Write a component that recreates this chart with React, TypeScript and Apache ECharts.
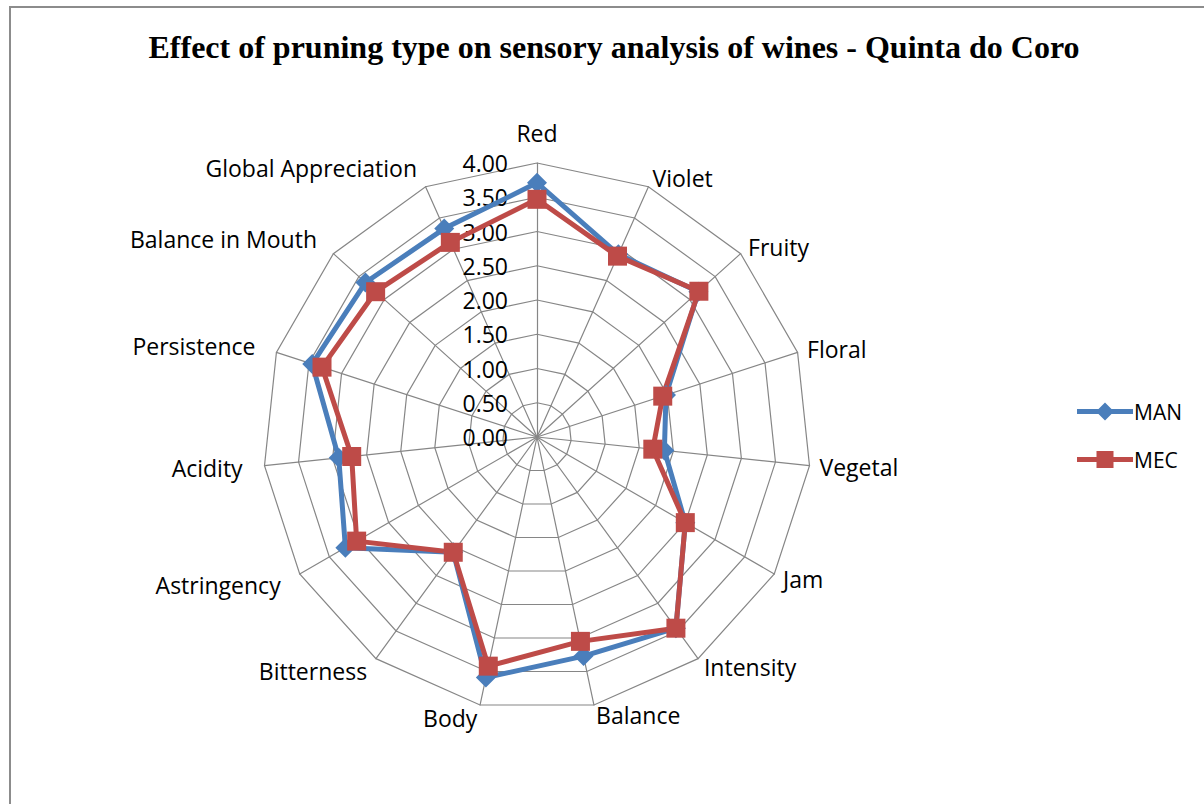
import React, { useEffect, useRef } from "react";
import * as echarts from "echarts";

// Categories in clockwise order starting at the top
const categories = [
  "Red", "Violet", "Fruity", "Floral", "Vegetal", "Jam", "Intensity", "Balance",
  "Body", "Bitterness", "Astringency", "Acidity", "Persistence", "Balance in Mouth",
  "Global Appreciation",
];
const manValues = [3.71, 2.92, 3.17, 1.98, 1.87, 2.5, 3.45, 3.27, 3.59, 2.08, 3.23, 2.91, 3.45, 3.37, 3.33];
const mecValues = [3.47, 2.89, 3.18, 1.93, 1.7, 2.5, 3.45, 3.05, 3.42, 2.08, 3.04, 2.72, 3.3, 3.17, 3.11];
const seriesNames = ["MAN", "MEC"];
const axisMax = 4;
const titleText = "Effect of pruning type on sensory analysis of wines - Quinta do Coro";

// ECharts radar places indicators counter-clockwise; reorder to read clockwise
const toClockwise = <T,>(arr: T[]): T[] => [arr[0], ...arr.slice(1).reverse()];

const BLUE = "#4A7EBB";
const RED = "#BE4B48";
const ICON_MAN = "path://M0,6.5 L56,6.5 L56,11.5 L0,11.5 Z M28,0 L37,9 L28,18 L19,9 Z";
const ICON_MEC = "path://M0,6.5 L56,6.5 L56,11.5 L0,11.5 Z M19.5,0.5 L36.5,0.5 L36.5,17.5 L19.5,17.5 Z";

export default function App() {
  const ref = useRef<HTMLDivElement>(null);
  useEffect(() => {
    if (!ref.current) return;
    const chart = echarts.init(ref.current, undefined, { renderer: "svg" });
    const font = "'Open Sans', 'Noto Sans', sans-serif";
    // clockwise index -> name gap (labels on the left sit farther out)
    const gaps = [19, 10, 10, 10, 10, 10, 10, 10, 13, 15, 22, 22, 22, 22, 21];
    const indicatorsCw = categories.map((name, i) => ({
      name,
      min: 0,
      max: axisMax,
      nameGap: gaps[i],
      ...(i === 0
        ? {
            axisLabel: {
              show: true,
              color: "#000",
              fontFamily: font,
              fontSize: 23,
              margin: 29,
              formatter: (v: number) => v.toFixed(2),
            },
          }
        : {}),
    }));
    chart.setOption({
      animation: false,
      backgroundColor: "#ffffff",
      title: {
        text: titleText,
        left: 609,
        textAlign: "center",
        top: 26,
        textStyle: {
          fontFamily: "'Liberation Serif', 'Times New Roman', serif",
          fontWeight: "bold",
          fontSize: 32,
          color: "#000",
        },
      },
      graphic: [
        {
          type: "polyline",
          shape: { points: [[10, 804], [10, 7], [1204, 7]] },
          style: { stroke: "#8c8c8c", lineWidth: 2, fill: "none" },
          silent: true,
        },
      ],
      legend: {
        orient: "vertical",
        left: 1072,
        top: 396,
        itemWidth: 56,
        itemHeight: 18,
        itemGap: 27,
        textStyle: { fontFamily: font, fontSize: 21, color: "#000", padding: [0, 0, 0, -4] },
        data: [
          { name: seriesNames[0], icon: ICON_MAN, itemStyle: { color: BLUE } },
          { name: seriesNames[1], icon: ICON_MEC, itemStyle: { color: RED } },
        ],
      },
      radar: {
        center: [537, 437],
        radius: 274,
        startAngle: 90,
        shape: "polygon",
        splitNumber: 8,
        nameGap: 10,
        axisName: { color: "#000", fontFamily: font, fontSize: 23 },
        splitLine: { lineStyle: { color: "#868686", width: 1.2 } },
        splitArea: { show: false },
        axisLine: { lineStyle: { color: "#868686", width: 1.2 } },
        axisTick: { show: false },
        axisLabel: { show: false },
        indicator: toClockwise(indicatorsCw),
      },
      series: [
        {
          type: "radar",
          data: [
            {
              name: seriesNames[0],
              value: toClockwise(manValues),
              symbol: "diamond",
              symbolSize: 20,
              lineStyle: { color: BLUE, width: 5 },
              itemStyle: { color: BLUE },
            },
            {
              name: seriesNames[1],
              value: toClockwise(mecValues),
              symbol: "rect",
              symbolSize: 19,
              lineStyle: { color: RED, width: 5 },
              itemStyle: { color: RED },
            },
          ],
        },
      ],
      color: [BLUE, RED],
    });
    return () => chart.dispose();
  }, []);
  return (
    <div
      ref={ref}
      style={{ position: "absolute", left: 0, top: 0, width: 1204, height: 804 }}
    />
  );
}
